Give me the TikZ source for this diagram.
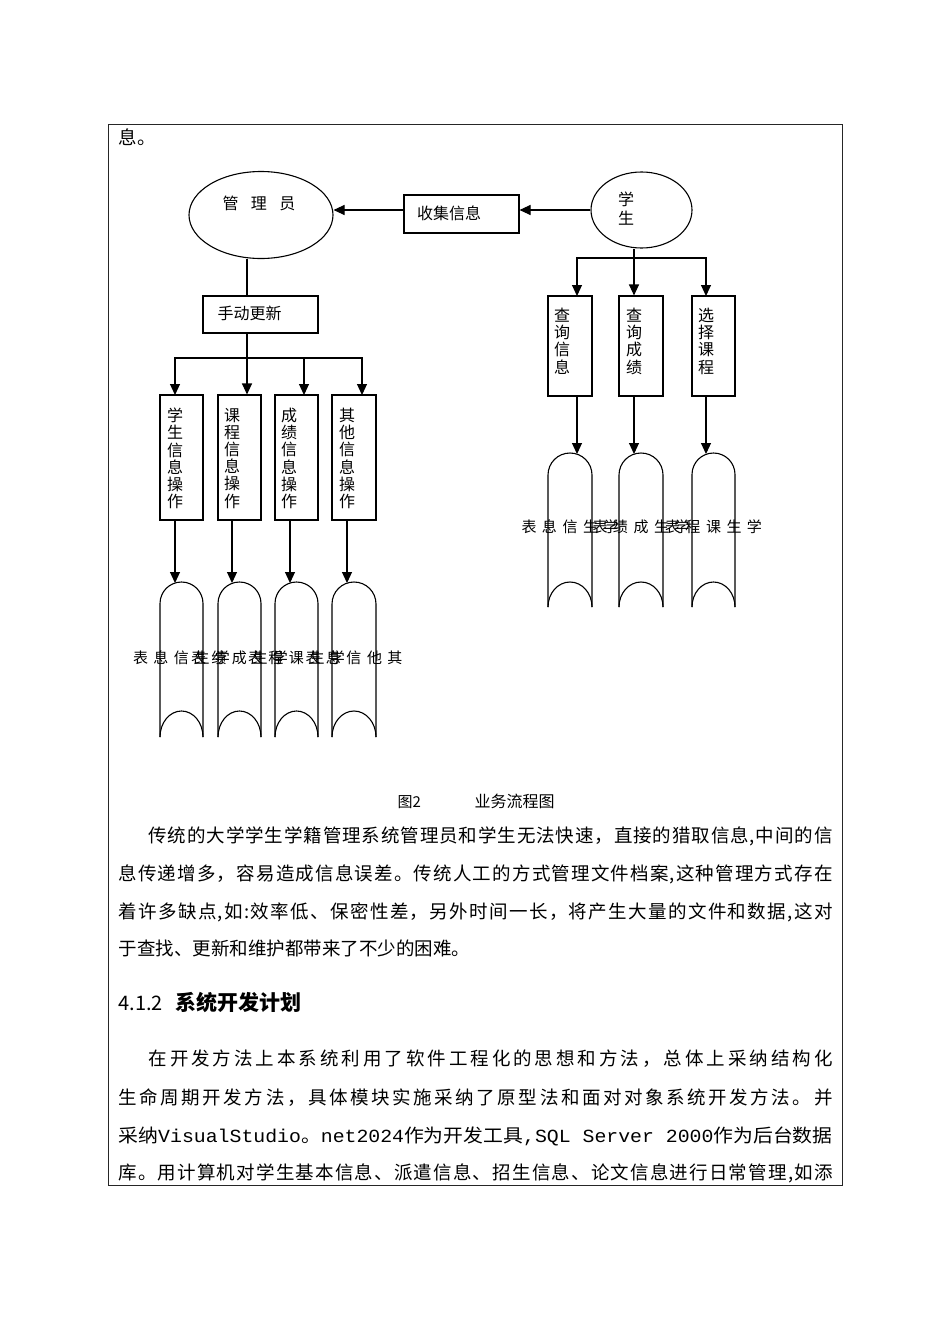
\documentclass[tikz,border=0pt]{standalone}
\usepackage{fontspec}
\usepackage{graphicx}
\setmainfont{Noto Sans CJK SC}
\newfontfamily\lmono{Liberation Mono}
\usetikzlibrary{shapes.geometric,arrows.meta}
\ExplSyntaxOn
\NewDocumentCommand\spreadline{mm}{\makebox[#1][s]{\tl_map_inline:nn{#2}{##1\hfil}\unskip}}
\ExplSyntaxOff
\newcommand\mydoc[5]{%
  \pgfmathsetmacro\dcx{(#1+#2)/2}%
  \pgfmathsetmacro\drr{(#2-#1)/2}%
  \pgfmathsetmacro\dcy{#3+\drr}%
  \pgfmathsetmacro\dkk{0.5523*\drr}%
  \pgfmathsetmacro\dtop{#4-#5}%
  \pgfmathsetmacro\dkh{0.5523*#5}%
  \draw (#1,#4) -- (#1,\dcy) .. controls (#1,\dcy-\dkk) and (\dcx-\dkk,#3) .. (\dcx,#3) .. controls (\dcx+\dkk,#3) and (#2,\dcy-\dkk) .. (#2,\dcy) -- (#2,#4);
  \draw (#1,#4) .. controls (#1,#4-\dkh) and (\dcx-\dkk,\dtop) .. (\dcx,\dtop) .. controls (\dcx+\dkk,\dtop) and (#2,#4-\dkh) .. (#2,#4);
}
\newcommand\gz{\hspace{5.5pt}}
\begin{document}
\begin{tikzpicture}[x=1pt,y=-1pt,line width=1.1pt,
  box/.style={draw, line width=1.1pt, inner sep=0pt, rectangle},
  oval/.style={draw, ellipse, line width=1.1pt, inner sep=0pt},
  arr/.style={-{Triangle[length=11pt,width=10pt]}},
  lab/.style={inner sep=0pt, font=\fontsize{16}{16}\selectfont},
  dlab/.style={inner sep=0pt, font=\fontsize{15}{15}\selectfont},
  vlab/.style={inner sep=0pt, anchor=north, align=center, font=\fontsize{16}{17.2}\selectfont},
  body/.style={anchor=base west, inner sep=0pt, font=\fontsize{18.5}{18.5}\selectfont},
]
\fill[white] (0,0) rectangle (950,1344);
\useasboundingbox (0,0) rectangle (950,1344);
\draw[line width=1pt, black!85] (108,124) rectangle (842,1185);

\node[body] (top) at (118,144) {息。};

% top row
\node[oval, minimum width=144pt, minimum height=87pt] (mgr) at (261,215) {};
\node[lab] (mgrt) at (259,203) {管\hspace{12.5pt}理\hspace{12.5pt}员};
\node[oval, minimum width=101pt, minimum height=76pt] (stu) at (641.5,210) {};
\node[vlab, font=\fontsize{16}{19.5}\selectfont] (stut) at (626,191) {学\\生};
\node[box, minimum width=115pt, minimum height=38pt] (col) at (461.5,214) {};
\node[lab] (colt) at (449,213) {收集信息};
\draw[arr] (stu.west) -- (col.east |- stu.west);
\draw[arr] (col.west |- stu.west) -- (mgr.east |- stu.west);

% left branch
\node[box, minimum width=115pt, minimum height=37pt] (upd) at (260.5,314.5) {};
\node[lab] (updt) at (249.5,313) {手动更新};
\coordinate (mx) at (247,358);
\draw (mgr.south -| mx) -- (upd.north -| mx);
\draw (upd.south -| mx) -- (mx);

\node[box, minimum width=43pt, minimum height=125pt] (o1) at (181.5,457.5) {};
\node[box, minimum width=43pt, minimum height=125pt] (o2) at (239.5,457.5) {};
\node[box, minimum width=43pt, minimum height=125pt] (o3) at (296.5,457.5) {};
\node[box, minimum width=44pt, minimum height=125pt] (o4) at (354,457.5) {};
\coordinate (i1) at (175,395);
\coordinate (i3) at (304,395);
\coordinate (i4) at (362,395);
\draw[arr] (mx) -| (i1);
\draw[arr] (mx) -- (o2.north -| mx);
\draw[arr] (mx) -| (i3);
\draw[arr] (mx) -| (i4);
\node[vlab] (o1t) at (175,407.5) {学\\生\\信\\息\\操\\作};
\node[vlab] (o2t) at (232,407.5) {课\\程\\信\\息\\操\\作};
\node[vlab] (o3t) at (289,407.5) {成\\绩\\信\\息\\操\\作};
\node[vlab] (o4t) at (347,407.5) {其\\他\\信\\息\\操\\作};

\coordinate (d1in) at (175,583);
\coordinate (d2in) at (232,583);
\coordinate (d3in) at (290,583);
\coordinate (d4in) at (347,583);
\draw[arr] (o1.south -| d1in) -- (d1in);
\draw[arr] (o2.south -| d2in) -- (d2in);
\draw[arr] (o3.south -| d3in) -- (d3in);
\draw[arr] (o4.south -| d4in) -- (d4in);
\mydoc{160}{203}{582}{737}{26}
\mydoc{218}{261}{582}{737}{26}
\mydoc{275}{318}{582}{737}{26}
\mydoc{332}{376}{582}{737}{26}
\node[dlab] (l1) at (181.5,658) {表\gz 息\gz 信\gz 生\gz 学};
\node[dlab] (l2) at (239.5,658) {表\gz 绩\gz 成\gz 生\gz 学};
\node[dlab] (l3) at (296.5,658) {表\gz 程\gz 课\gz 生\gz 学};
\node[dlab] (l4) at (354,658) {表\gz 息\gz 信\gz 他\gz 其};

% right branch
\coordinate (sx) at (634,258);
\draw (stu.south -| sx) -- (sx);
\node[box, minimum width=44pt, minimum height=100pt] (r1) at (570,346) {};
\node[box, minimum width=44pt, minimum height=100pt] (r2) at (641,346) {};
\node[box, minimum width=43pt, minimum height=100pt] (r3) at (713.5,346) {};
\coordinate (j1) at (577,296);
\coordinate (j3) at (706,296);
\draw[arr] (sx) -| (j1);
\draw[arr] (sx) -- (r2.north -| sx);
\draw[arr] (sx) -| (j3);
\node[vlab] (r1t) at (562,307.5) {查\\询\\信\\息};
\node[vlab] (r2t) at (634,307.5) {查\\询\\成\\绩};
\node[vlab] (r3t) at (706,307.5) {选\\择\\课\\程};
\coordinate (e1in) at (577,454);
\coordinate (e2in) at (634,454);
\coordinate (e3in) at (706,454);
\draw[arr] (r1.south -| e1in) -- (e1in);
\draw[arr] (r2.south -| e2in) -- (e2in);
\draw[arr] (r3.south -| e3in) -- (e3in);
\mydoc{548}{592}{453}{607}{25}
\mydoc{619}{663}{453}{607}{25}
\mydoc{692}{735}{453}{607}{25}
\node[dlab] (m1) at (570,527) {表\gz 息\gz 信\gz 生\gz 学};
\node[dlab] (m2) at (641,527) {表\gz 绩\gz 成\gz 生\gz 学};
\node[dlab] (m3) at (713.5,527) {表\gz 程\gz 课\gz 生\gz 学};

% caption
\node[anchor=base west, inner sep=0pt, font=\fontsize{15}{15}\selectfont] (cap1) at (397,807) {图2};
\node[anchor=base west, inner sep=0pt, font=\fontsize{16}{16}\selectfont] (cap2) at (474,807) {业务流程图};

% paragraph 1
\node[body] (p1a) at (148,842) {\spreadline{684pt}{传统的大学学生学籍管理系统管理员和学生无法快速，直接的猎取信息,中间的信}};
\node[body] (p1b) at (118,880) {\spreadline{714pt}{息传递增多，容易造成信息误差。传统人工的方式管理文件档案,这种管理方式存在}};
\node[body] (p1c) at (118,918) {\spreadline{714pt}{着许多缺点,如:效率低、保密性差，另外时间一长，将产生大量的文件和数据,这对}};
\node[body] (p1d) at (118,955) {于查找、更新和维护都带来了不少的困难。};

% heading
\node[anchor=base west, inner sep=0pt, font=\fontsize{20}{20}\selectfont] (h1) at (118,1010) {4.1.2};
\node[anchor=base west, inner sep=0pt, font=\fontsize{21}{21}\selectfont\bfseries] (h2) at (175,1010) {系统开发计划};

% paragraph 2
\node[body] (p2a) at (148,1065) {\spreadline{684pt}{在开发方法上本系统利用了软件工程化的思想和方法，总体上采纳结构化}};
\node[body] (p2b) at (118,1104) {\spreadline{714pt}{生命周期开发方法，具体模块实施采纳了原型法和面对对象系统开发方法。并}};
\node[body] (p2c) at (118,1142) {\resizebox{714pt}{\height}{采纳{\lmono VisualStudio}。{\lmono net2024}作为开发工具{\lmono ,SQL Server 2000}作为后台数据}};
\node[body] (p2d) at (118,1179) {\spreadline{714pt}{库。用计算机对学生基本信息、派遣信息、招生信息、论文信息进行日常管理,如添}};
\end{tikzpicture}
\end{document}
